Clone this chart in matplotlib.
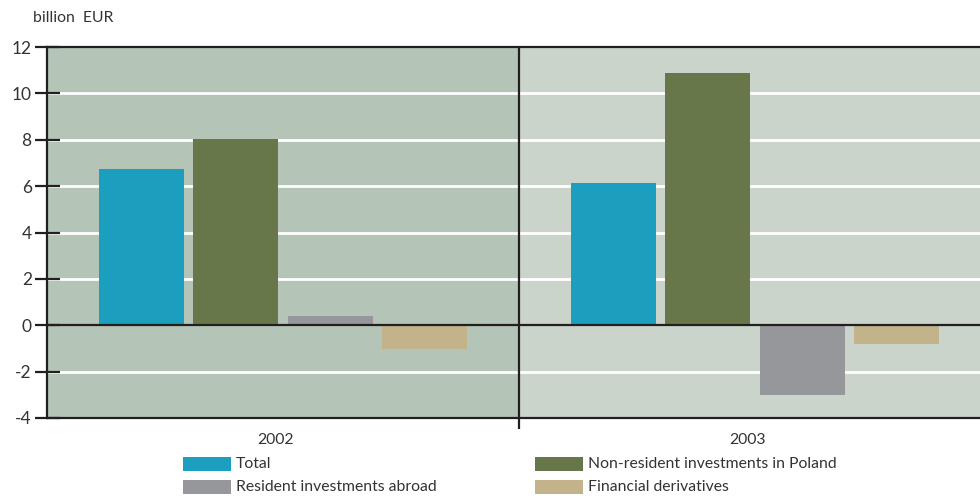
import matplotlib
matplotlib.use("Agg")
import matplotlib.pyplot as plt
from matplotlib.patches import Rectangle
import numpy as np

plt.rcParams['font.family'] = ['Lato', 'DejaVu Sans']

years = ["2002", "2003"]
series_names = ["Total", "Non-resident investments in Poland",
                "Resident investments abroad", "Financial derivatives"]
total = [6.72, 6.12]
non_resident = [8.02, 10.9]
resident_abroad = [0.39, -3.02]
derivatives = [-1.03, -0.82]
y_ticks = [-4, -2, 0, 2, 4, 6, 8, 10, 12]

colors = ["#1c9ebf", "#68774a", "#96979b", "#c2b38b"]
dark = "#231f20"
text_c = "#333333"

W, H = 980, 496
fig = plt.figure(figsize=(W / 100, H / 100), dpi=100)

def fx(px):
    return px / W

def fy(py):
    return 1 - py / H

left_px, right_px, top_px, bot_px = 47, 991, 47, 418
ax = fig.add_axes([fx(left_px), fy(bot_px), fx(right_px - left_px),
                   (bot_px - top_px) / H])

x = np.arange(len(years))
ax.set_xlim(-0.5, 1.5)
ax.set_ylim(-4, 12)

# panel backgrounds
ax.axvspan(-0.5, 0.5, color="#b4c4b6", zorder=0, lw=0)
ax.axvspan(0.5, 1.5, color="#cad4ca", zorder=0, lw=0)

# white grid
for t in y_ticks:
    if t not in (-4, 0, 12):
        ax.axhline(t, color="white", lw=2.0, zorder=1)

values = [total, non_resident, resident_abroad, derivatives]
offsets = [-0.3, -0.1, 0.1, 0.3]
width = 0.18
for vals, off, c in zip(values, offsets, colors):
    ax.bar(x + off, vals, width=width, color=c, zorder=2, lw=0)

ax.axhline(0, color=dark, lw=1.6, zorder=3)
ax.axvline(0.5, color=dark, lw=1.6, zorder=3)

for side in ["left", "top", "bottom"]:
    ax.spines[side].set_color(dark)
    ax.spines[side].set_linewidth(1.6)
ax.spines["right"].set_visible(False)

ax.set_yticks(y_ticks)
ax.set_yticklabels([str(t) for t in y_ticks])
ax.tick_params(axis="y", direction="inout", length=18, width=1.6, color=dark,
               labelsize=12.5, labelcolor=text_c, pad=2)
ax.set_xticks(x - 0.015)
ax.set_xticklabels(years)
ax.tick_params(axis="x", length=0, labelsize=11.3, labelcolor=text_c, pad=11)
ax.set_xticks([0.5], minor=True)
ax.tick_params(axis="x", which="minor", direction="out", length=8, width=1.6,
               color=dark)

fig.text(fx(33), fy(18), "billion  EUR", fontsize=11.3, color=text_c,
         va="center", ha="left")

# legend
legend_pos = [(183, 464), (535, 464), (183, 487), (535, 487)]
for (px, py), name, c in zip(legend_pos, series_names, colors):
    fig.patches.append(Rectangle((fx(px), fy(py + 7)), fx(48), 14 / H,
                                 transform=fig.transFigure, color=c, lw=0))
    fig.text(fx(px + 53), fy(py), name, fontsize=11.3, color=text_c,
             va="center", ha="left")

fig.savefig("out.png", dpi=100)
